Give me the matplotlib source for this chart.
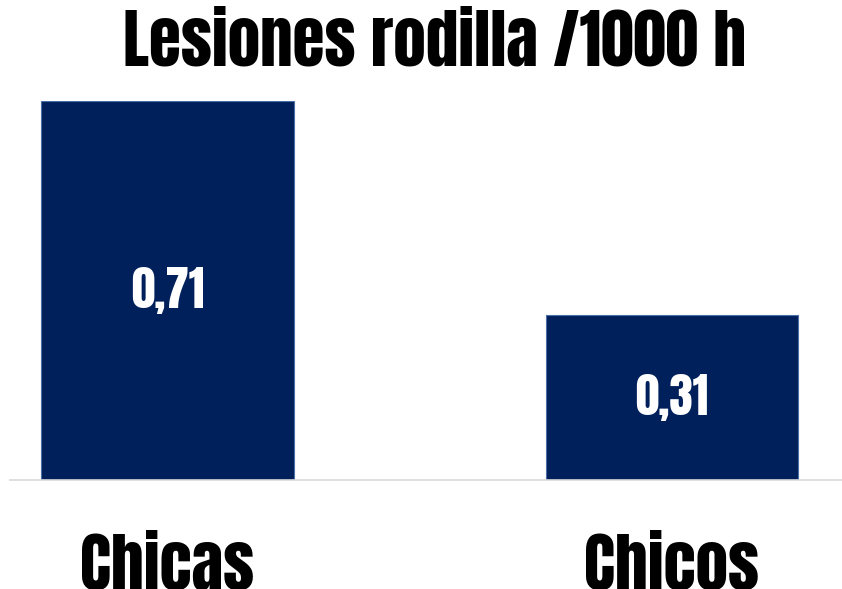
import matplotlib
matplotlib.use("Agg")
import matplotlib.pyplot as plt

categories = ["Chicas", "Chicos"]
values = [0.71, 0.31]
value_labels = ["0,71", "0,31"]

plt.rcParams['font.family'] = ['Anton', 'DejaVu Sans']

fig = plt.figure(figsize=(8.42, 5.89), dpi=100)
ax = fig.add_axes([10 / 842, 1 - 480 / 589, 832 / 842, 379 / 589])

bars = ax.bar(range(len(values)), values, width=0.5, color='#00205B',
              edgecolor='#4a6fa8', linewidth=0.8)
ax.set_xlim(-0.312, 1.337)
ax.set_ylim(0, 0.71)

for b, lab in zip(bars, value_labels):
    ax.text(b.get_x() + b.get_width() / 2, b.get_height() / 2, lab,
            ha='center', va='center', color='white', fontsize=34)

# category labels below the baseline
ax.set_xticks([])
ax.set_yticks([])
for i, cat in enumerate(categories):
    ax.text(i, -0.225, cat, transform=ax.get_xaxis_transform(),
            ha='center', va='center', fontsize=47)

for s in ['top', 'right', 'left']:
    ax.spines[s].set_visible(False)
ax.spines['bottom'].set_color('#d9d9d9')
ax.spines['bottom'].set_linewidth(1.2)

fig.text(435 / 842, 1 - 41 / 589, "Lesiones rodilla /1000 h", ha='center', va='center',
         fontsize=47)

fig.savefig("out.png", dpi=100)
